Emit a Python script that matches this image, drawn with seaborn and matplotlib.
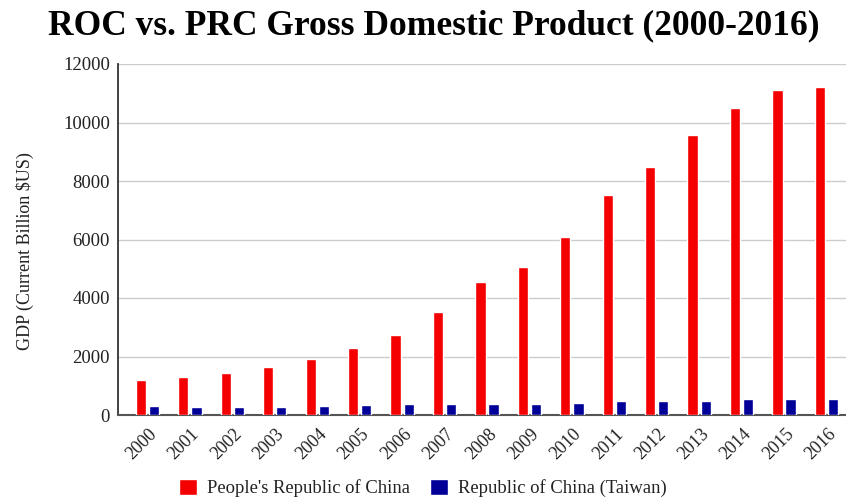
import matplotlib
matplotlib.use("Agg")
import matplotlib.pyplot as plt
import matplotlib.transforms as mtransforms
import seaborn as sns
import pandas as pd

years = [str(y) for y in range(2000, 2017)]
prc_gdp = [1197, 1290, 1450, 1655, 1905, 2280, 2735, 3535, 4560, 5070, 6100, 7520, 8490, 9575, 10485, 11110, 11200]
roc_gdp = [320, 290, 290, 290, 320, 325, 375, 380, 380, 380, 425, 490, 490, 495, 530, 530, 530]
series = ["People's Republic of China", "Republic of China (Taiwan)"]
colors = ["#f40000", "#000099"]
y_ticks = [0, 2000, 4000, 6000, 8000, 10000, 12000]

df = pd.DataFrame({
    "Year": years * 2,
    "GDP": prc_gdp + roc_gdp,
    "Country": [series[0]] * len(years) + [series[1]] * len(years),
})

sns.set_theme(style="white")
plt.rcParams["font.family"] = ["Liberation Serif", "DejaVu Serif"]

fig = plt.figure(figsize=(8.46, 5.0), dpi=100)
ax = fig.add_axes([0.1398, 0.17, 0.8602, 0.702])

sns.barplot(data=df, x="Year", y="GDP", hue="Country", order=years,
            hue_order=series, palette=colors, width=0.62, gap=0.22,
            saturation=1, ax=ax, legend=True, zorder=3)

ax.set_ylim(0, 12000)
ax.set_yticks(y_ticks)
ax.set_yticklabels([str(t) for t in y_ticks], fontsize=13.5, color="#222222")
ax.set_xlim(-0.688, 16.46)
ax.grid(axis="y", color="#cccccc", linewidth=1, zorder=0)
ax.grid(axis="x", visible=False)
for s in ["top", "right"]:
    ax.spines[s].set_visible(False)
ax.spines["left"].set_color("#333333")
ax.spines["left"].set_linewidth(1.3)
ax.spines["bottom"].set_color("#555555")
ax.spines["bottom"].set_linewidth(1.5)
ax.tick_params(axis="y", length=0, pad=6)
ax.tick_params(axis="x", length=0, pad=12)
ax.set_xticks(range(len(years)))
ax.set_xticklabels(years)
offset = mtransforms.ScaledTranslation(7 / 100, 0, fig.dpi_scale_trans)
for lab in ax.get_xticklabels():
    lab.set_rotation(45)
    lab.set_ha("right")
    lab.set_va("center")
    lab.set_rotation_mode("anchor")
    lab.set_fontsize(13)
    lab.set_color("#222222")
    lab.set_transform(lab.get_transform() + offset)

ax.set_xlabel("")
ax.set_ylabel("GDP (Current Billion \\$US)", fontsize=13, color="#222222")
ax.yaxis.set_label_coords(34 / 846, (500 - 251) / 500, transform=fig.transFigure)

h, l = ax.get_legend_handles_labels()
ax.get_legend().remove()
fig.legend(h, l, loc="center", bbox_to_anchor=(0.5, 12 / 500), ncol=2,
           frameon=False, fontsize=13.4, handlelength=0.95, handleheight=0.95,
           columnspacing=1.05, handletextpad=0.55, labelcolor="#222222",
           borderaxespad=0.0)

fig.text(0.513, 0.948, "ROC vs. PRC Gross Domestic Product (2000-2016)",
         ha="center", va="center", fontsize=25.5, fontweight="bold", color="#000000")

fig.savefig("out.png", dpi=100)
